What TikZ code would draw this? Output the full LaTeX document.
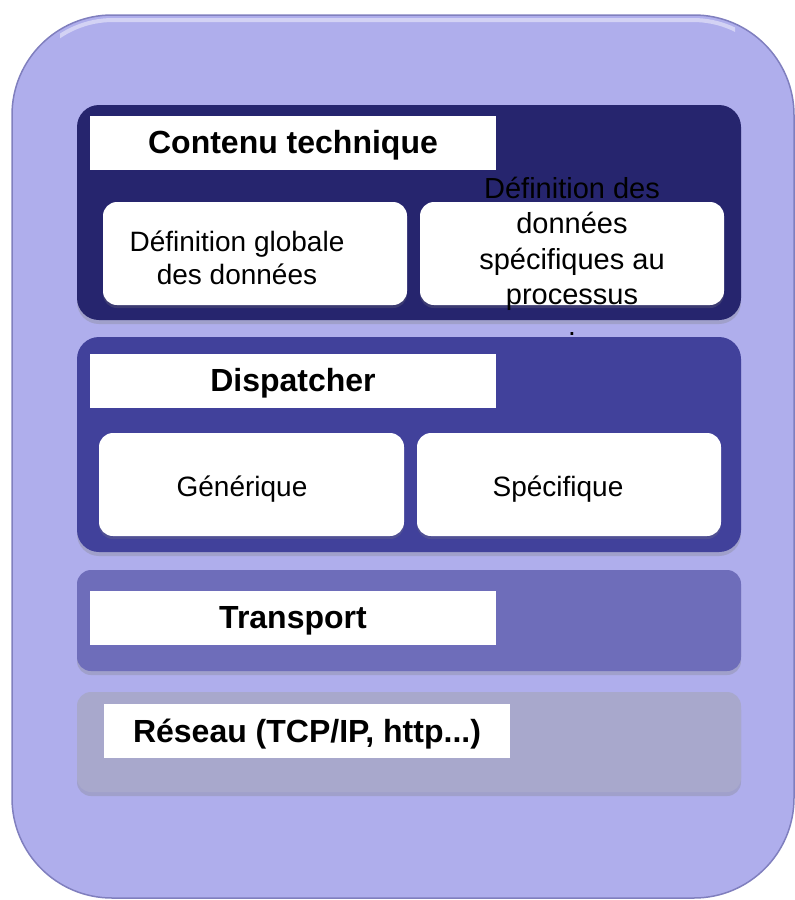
\documentclass[tikz,border=0pt]{standalone}
\usepackage{fontspec}
\setmainfont{Liberation Sans}
\usepackage{tikz}
\usetikzlibrary{shadows}

\definecolor{frameblue}{RGB}{175,174,236}
\definecolor{framerim}{RGB}{128,127,190}
\definecolor{techblue}{RGB}{38,37,110}
\definecolor{dispblue}{RGB}{65,65,155}
\definecolor{transblue}{RGB}{110,109,186}
\definecolor{netgrey}{RGB}{168,168,204}

\tikzset{
  layer/.style={rounded corners=22pt,drop shadow={opacity=0.3,shadow xshift=0pt,shadow yshift=-4pt}},
  titlebox/.style={fill=white},
  cellbox/.style={fill=white,rounded corners=14pt,drop shadow={opacity=0.25,shadow xshift=0pt,shadow yshift=-3pt}},
  titletext/.style={font=\fontsize{32}{36}\selectfont\bfseries,anchor=base,inner sep=0pt},
  celltext/.style={font=\fontsize{28}{33}\selectfont,align=center,inner sep=0pt}
}

\begin{document}
\begin{tikzpicture}[x=1pt,y=-1pt,line join=round]
\useasboundingbox (0,0) rectangle (795,900);
% outer frame
\draw[fill=frameblue,draw=framerim,line width=1.5pt,rounded corners=100pt] (12,15) rectangle (794,898);
\begin{scope}
\clip (60,0) rectangle (735,40);
\draw[white,opacity=0.45,line width=4pt,rounded corners=96pt] (17,20) rectangle (789,893);
\end{scope}
% contenu technique
\fill[layer,fill=techblue] (77,105) rectangle (741,320);
\fill[titlebox] (90,116) rectangle (496,170);
\node[titletext] (tech) at (293,153) {Contenu technique};
\fill[cellbox] (103,202) rectangle (407,305);
\fill[cellbox] (420,202) rectangle (724,305);
\node[celltext] (globdef) at (237,258) {Définition globale\\des données};
\node[celltext,font=\fontsize{29}{35.5}\selectfont] (specdef) at (572,244) {Définition des\\données\\spécifiques au\\processus};
% dispatcher
\fill[layer,fill=dispblue] (77,337) rectangle (741,552);
\node[celltext,anchor=base] (dot) at (572,335) {.};
\fill[titlebox] (90,354) rectangle (496,408);
\node[titletext] (disp) at (293,391) {Dispatcher};
\fill[cellbox] (99,433) rectangle (404,536);
\fill[cellbox] (417,433) rectangle (721,536);
\node[celltext,anchor=base] (gen) at (242,496) {Générique};
\node[celltext,anchor=base] (spec) at (558,496) {Spécifique};
% transport
\fill[layer,fill=transblue,rounded corners=14pt] (77,570) rectangle (741,671);
\fill[titlebox] (90,591) rectangle (496,645);
\node[titletext] (trans) at (293,628) {Transport};
% reseau
\fill[layer,fill=netgrey,rounded corners=14pt] (77,692) rectangle (741,792);
\fill[titlebox] (104,704) rectangle (510,758);
\node[titletext] (net) at (307,742) {Réseau (TCP/IP, http...)};
\end{tikzpicture}
\end{document}
